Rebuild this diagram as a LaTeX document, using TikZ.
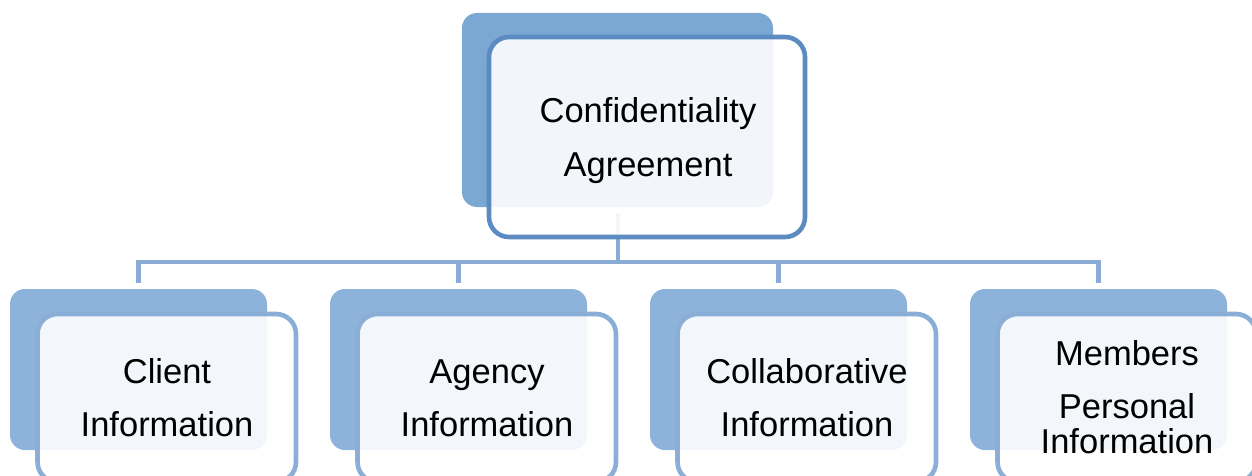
\documentclass[tikz,border=0pt]{standalone}
\usepackage{fontspec}
\setmainfont{Liberation Sans}
\definecolor{topback}{HTML}{7BA7D3}
\definecolor{topline}{HTML}{5B8BC0}
\definecolor{lowback}{HTML}{8DB3DA}
\definecolor{lowline}{HTML}{8AAED6}
\definecolor{busline}{HTML}{8AABD3}
\begin{document}
\begin{tikzpicture}[x=1pt,y=-1pt,
  shadowbox/.style={draw=none, fill=#1, rounded corners=15pt, inner sep=0pt},
  framebox/.style={draw=#1, line width=4.6pt, fill=white, fill opacity=0.9,
    rounded corners=20pt, inner sep=0pt},
  bus/.style={draw=busline, line width=4.6pt, line join=miter},
  label/.style={anchor=base, inner sep=0pt, font=\fontsize{34.5}{40}\selectfont}]
\useasboundingbox (0,0) rectangle (1252,476);

% top level: shaded back plate
\node[shadowbox=topback, minimum width=311pt, minimum height=194pt] (topb) at (617.5,110) {};

% connectors from the top level down to the four branches
\coordinate (trunk) at (618,213);
\coordinate (busy) at (0,262);
\foreach \i in {0,1,2,3}{
  \node[shadowbox=lowback, minimum width=257pt, minimum height=161pt] (b\i) at (138.5+320*\i,369.5) {};
  \draw[bus] (trunk) -- (trunk |- busy) -| ([yshift=6pt]b\i.north);
}

% top level: framed front box
\node[framebox=topline, minimum width=316pt, minimum height=200pt] (topf) at (647,137) {};
\node[label] (conf) at (648,123) {Confidentiality};
\node[label] (agree) at (648,176) {Agreement};

% branch front boxes
\foreach \i in {0,1,2,3}{
  \node[framebox=lowline, minimum width=258.5pt, minimum height=168pt] (f\i) at (166.75+320*\i,398) {};
}

\node[label] (client) at (167,383) {Client};
\node[label] (clientinfo) at (167,436) {Information};
\node[label] (agency) at (487,383) {Agency};
\node[label] (agencyinfo) at (487,436) {Information};
\node[label] (collab) at (807,383) {Collaborative};
\node[label] (collabinfo) at (807,436) {Information};
\node[label] (members) at (1127,365) {Members};
\node[label] (personal) at (1127,418) {Personal};
\node[label] (membersinfo) at (1127,453) {Information};
\end{tikzpicture}
\end{document}
